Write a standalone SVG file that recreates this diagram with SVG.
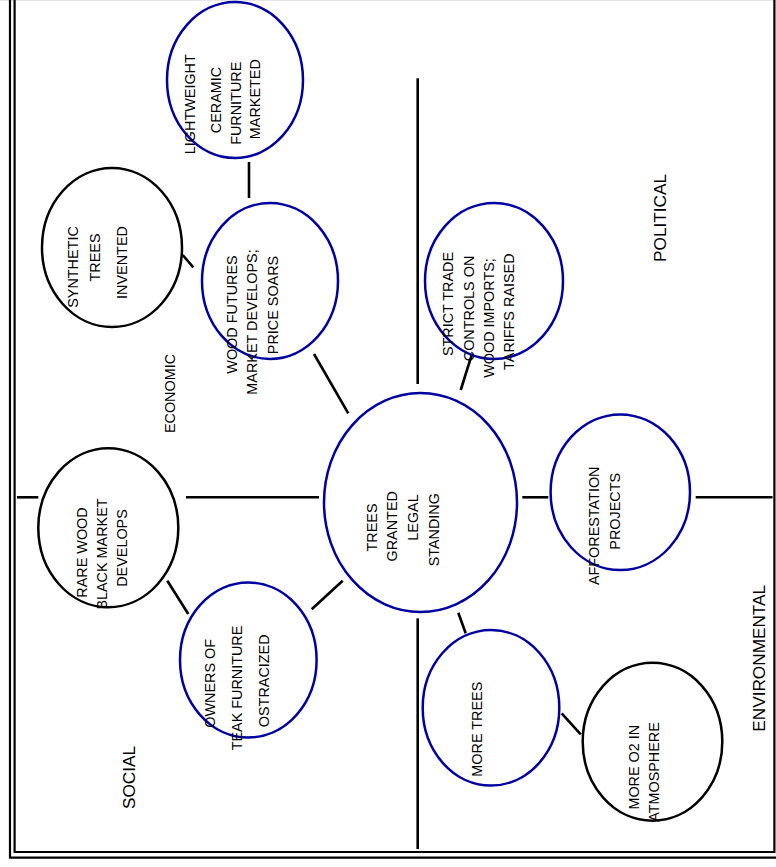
<svg xmlns="http://www.w3.org/2000/svg" width="776" height="867" viewBox="0 0 776 867">
<style>
.bg{fill:#ffffff}
.frame{fill:none;stroke:#000;stroke-width:2.2}
.blue{fill:none;stroke:#0000a0;stroke-width:2.5}
.black{fill:none;stroke:#000;stroke-width:2.5}
.conn line{stroke:#000;stroke-width:2.6;stroke-linecap:butt}
text{font-family:"Liberation Sans",Arial,sans-serif;font-size:14.4px;fill:#000;text-anchor:middle}
text.cat{font-size:17.2px}
</style>
<rect class="bg" x="0" y="0" width="776" height="867"/>
<line x1="0" y1="0.5" x2="776" y2="0.5" stroke="#e6e6e6" stroke-width="1"/>
<g id="frame">
<path class="frame" d="M10,0 V857.7 H776"/>
<path class="frame" d="M14.6,0 V852 H774.4 V0"/>
</g>
<g id="connectors" class="conn">
<line x1="417.7" y1="78.3" x2="417.7" y2="384"/>
<line x1="417.7" y1="618.3" x2="417.7" y2="849"/>
<line x1="17" y1="497.3" x2="38.3" y2="497.3"/>
<line x1="186" y1="497.3" x2="319" y2="497.3"/>
<line x1="522.3" y1="497.3" x2="548.3" y2="497.3"/>
<line x1="695.7" y1="497.3" x2="772.5" y2="497.3"/>
<line x1="249" y1="162" x2="249" y2="198"/>
<line x1="182.7" y1="255" x2="193.3" y2="267.3"/>
<line x1="314" y1="354" x2="348.3" y2="413.3"/>
<line x1="471.7" y1="355" x2="460.7" y2="390"/>
<line x1="167.3" y1="580.7" x2="188.3" y2="614"/>
<line x1="311.7" y1="609.3" x2="342.7" y2="580.7"/>
<line x1="458.3" y1="612.7" x2="465.7" y2="633.3"/>
<line x1="561.7" y1="713.3" x2="580.7" y2="734.3"/>
</g>
<g id="node-center">
<ellipse class="blue" cx="420.5" cy="502.5" rx="96.5" ry="109.5"/>
<text transform="translate(377.2,527.5) rotate(-90)">TREES</text>
<text transform="translate(396.7,526.3) rotate(-90)">GRANTED</text>
<text transform="translate(417.7,517.5) rotate(-90)">LEGAL</text>
<text transform="translate(438.7,529.7) rotate(-90)">STANDING</text>
</g>
<g id="node-ceramic">
<ellipse class="blue" cx="235" cy="80" rx="68" ry="78"/>
<text transform="translate(195.4,104.2) rotate(-90)">LIGHTWEIGHT</text>
<text transform="translate(220.9,100) rotate(-90)">CERAMIC</text>
<text transform="translate(241.2,103.3) rotate(-90)">FURNITURE</text>
<text transform="translate(260.2,99.2) rotate(-90)">MARKETED</text>
</g>
<g id="node-futures">
<ellipse class="blue" cx="270" cy="281" rx="68" ry="78"/>
<text transform="translate(237.2,314.5) rotate(-90)">WOOD FUTURES</text>
<text transform="translate(257.2,322) rotate(-90)">MARKET DEVELOPS;</text>
<text transform="translate(278.2,305) rotate(-90)">PRICE SOARS</text>
</g>
<g id="node-synthetic">
<ellipse class="black" cx="112" cy="247.5" rx="70" ry="79.5"/>
<text transform="translate(78.2,267) rotate(-90)">SYNTHETIC</text>
<text transform="translate(100.2,257.5) rotate(-90)">TREES</text>
<text transform="translate(127.2,262.5) rotate(-90)">INVENTED</text>
</g>
<g id="node-trade">
<ellipse class="blue" cx="494" cy="281" rx="69" ry="78"/>
<text transform="translate(452.5,304) rotate(-90)">STRICT TRADE</text>
<text transform="translate(473.5,308.5) rotate(-90)">CONTROLS ON</text>
<text transform="translate(494,318) rotate(-90)">WOOD IMPORTS;</text>
<text transform="translate(513.5,311.7) rotate(-90)">TARIFFS RAISED</text>
</g>
<g id="node-blackmarket">
<ellipse class="black" cx="108.3" cy="527.8" rx="70" ry="79.5"/>
<text transform="translate(86.7,552.5) rotate(-90)">RARE WOOD</text>
<text transform="translate(106.7,554) rotate(-90)">BLACK MARKET</text>
<text transform="translate(126.7,548) rotate(-90)">DEVELOPS</text>
</g>
<g id="node-owners">
<ellipse class="blue" cx="248.3" cy="660" rx="68.3" ry="77.5"/>
<text transform="translate(215.2,683.3) rotate(-90)">OWNERS OF</text>
<text transform="translate(241.7,688) rotate(-90)">TEAK FURNITURE</text>
<text transform="translate(268.5,680.8) rotate(-90)">OSTRACIZED</text>
</g>
<g id="node-afforestation">
<ellipse class="blue" cx="620.3" cy="492.2" rx="69.7" ry="77.8"/>
<text transform="translate(599.2,525.8) rotate(-90)">AFFORESTATION</text>
<text transform="translate(620.2,511.3) rotate(-90)">PROJECTS</text>
</g>
<g id="node-moretrees">
<ellipse class="blue" cx="491" cy="707.8" rx="68.3" ry="77.8"/>
<text transform="translate(481.7,729.2) rotate(-90)">MORE TREES</text>
</g>
<g id="node-o2">
<ellipse class="black" cx="652.5" cy="741.7" rx="69.8" ry="79"/>
<text transform="translate(639.2,767.2) rotate(-90)">MORE O2 IN</text>
<text transform="translate(658.5,772) rotate(-90)">ATMOSPHERE</text>
</g>
<g id="labels">
<text transform="translate(175.2,393.5) rotate(-90)">ECONOMIC</text>
<text class="cat" transform="translate(665.7,218) rotate(-90)">POLITICAL</text>
<text class="cat" transform="translate(135.2,777.5) rotate(-90)">SOCIAL</text>
<text class="cat" transform="translate(765.2,658.3) rotate(-90)">ENVIRONMENTAL</text>
</g>
</svg>
